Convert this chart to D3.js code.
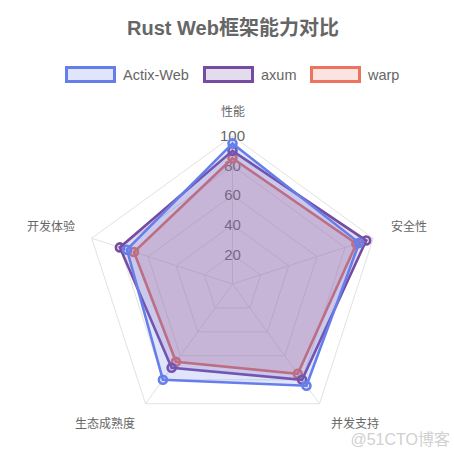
<!DOCTYPE html>
<html>
<head>
<meta charset="utf-8">
<script src="https://cdn.jsdelivr.net/npm/d3@7"></script>
<style>
  body { margin: 0; background: #fff; }
  text { font-family: "Liberation Sans", Arial, "Noto Sans CJK SC", sans-serif; }
</style>
</head>
<body>
<script>
// ---- data ----
var categories = ["性能", "安全性", "并发支持", "生态成熟度", "开发体验"];
var seriesNames = ["Actix-Web", "axum", "warp"];
var actixValues = [95, 90, 85, 80, 75];
var axumValues  = [90, 95, 80, 70, 80];
var warpValues  = [85, 88, 75, 65, 70];
var tickValues  = [20, 40, 60, 80, 100];

var colors = ["#667eea", "#764ba2", "#eb735f"];
var fills  = ["rgba(102,126,234,0.2)", "rgba(118,75,162,0.2)", "rgba(235,115,95,0.2)"];

var W = 454, H = 455, cx = 232.5, cy = 284, R = 148;

var svg = d3.select("body").append("svg")
    .attr("width", W).attr("height", H);

var r = d3.scaleLinear().domain([0, 100]).range([0, R]);
var angle = d3.scaleLinear().domain([0, categories.length]).range([0, 2 * Math.PI]);

function pt(i, v) {
    var a = angle(i);
    return [cx + r(v) * Math.sin(a), cy - r(v) * Math.cos(a)];
}

// title
svg.append("text")
    .attr("x", W / 2 + 6).attr("y", 35)
    .attr("text-anchor", "middle")
    .attr("font-size", 20).attr("font-weight", "bold")
    .attr("fill", "#666")
    .text("Rust Web框架能力对比");

// legend
var legendX = [65, 203, 310];
seriesNames.forEach(function(name, k) {
    svg.append("rect")
        .attr("x", legendX[k] + 1.5).attr("y", 67.5)
        .attr("width", 48).attr("height", 14)
        .attr("fill", fills[k]).attr("stroke", colors[k]).attr("stroke-width", 3);
    svg.append("text")
        .attr("x", legendX[k] + 58).attr("y", 79.5)
        .attr("font-size", 14.5).attr("fill", "#666")
        .text(name);
});

var g = svg.append("g");

// grid rings
tickValues.forEach(function(t) {
    g.append("path")
        .attr("d", d3.line()(categories.map(function(c, i) { return pt(i, t); })) + "Z")
        .attr("fill", "none").attr("stroke", "#e2e2e2").attr("stroke-width", 1);
});
// angle lines
categories.forEach(function(c, i) {
    var p = pt(i, 100);
    g.append("line")
        .attr("x1", cx).attr("y1", cy).attr("x2", p[0]).attr("y2", p[1])
        .attr("stroke", "#e2e2e2").attr("stroke-width", 1);
});

// tick labels (drawn under the datasets)
tickValues.forEach(function(t) {
    g.append("text")
        .attr("x", cx).attr("y", cy - r(t))
        .attr("dy", "0.35em")
        .attr("text-anchor", "middle")
        .attr("font-size", 15).attr("fill", "#666")
        .text(t);
});

// point labels
var labelPos = [
    {x: 233, y: 116, a: "middle"},
    {x: 391, y: 231, a: "start"},
    {x: 331, y: 428, a: "start"},
    {x: 135, y: 428, a: "end"},
    {x: 75, y: 231, a: "end"}
];
categories.forEach(function(c, i) {
    g.append("text")
        .attr("x", labelPos[i].x).attr("y", labelPos[i].y)
        .attr("text-anchor", labelPos[i].a)
        .attr("font-size", 12).attr("fill", "#666")
        .text(c);
});

// datasets (last first so the first is on top)
var all = [actixValues, axumValues, warpValues];
var radial = d3.lineRadial()
    .angle(function(d, i) { return angle(i); })
    .radius(function(d) { return r(d); })
    .curve(d3.curveLinearClosed);

for (var k = all.length - 1; k >= 0; k--) {
    var sg = g.append("g");
    sg.append("path")
        .attr("transform", "translate(" + cx + "," + cy + ")")
        .attr("d", radial(all[k]))
        .attr("fill", fills[k]).attr("stroke", colors[k])
        .attr("stroke-width", 2.6).attr("stroke-linejoin", "miter");
    sg.selectAll("circle")
        .data(all[k])
        .join("circle")
        .attr("cx", function(d, i) { return pt(i, d)[0]; })
        .attr("cy", function(d, i) { return pt(i, d)[1]; })
        .attr("r", 4)
        .attr("fill", fills[k]).attr("stroke", colors[k]).attr("stroke-width", 2.6);
}

// watermark
svg.append("text")
    .attr("x", 450).attr("y", 445)
    .attr("text-anchor", "end")
    .attr("font-size", 16).attr("fill", "#d0d0d0")
    .text("@51CTO博客");
</script>
</body>
</html>
